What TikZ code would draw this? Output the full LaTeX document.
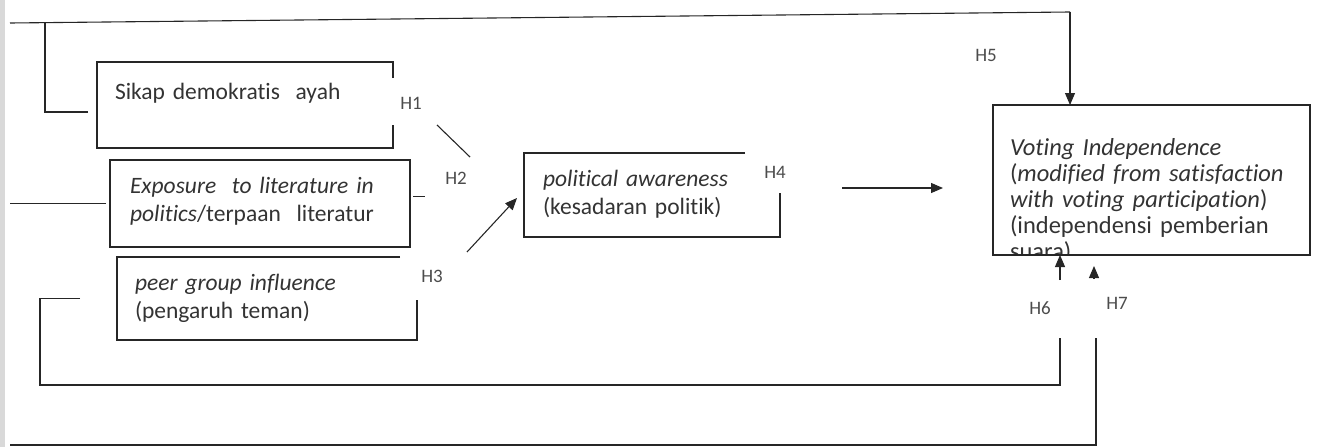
\documentclass[tikz,border=0pt]{standalone}
\usepackage{fontspec}
\setmainfont{Carlito}[Ligatures=NoCommon]
\usetikzlibrary{positioning, arrows.meta, calc}
\hyphenpenalty=10000

\begin{document}
\begin{tikzpicture}[
    x=1pt, y=-1pt,
    >={Triangle[length=12pt, width=10pt]},
    color=black!85,
    line width=1.1pt,
    arrow/.style={
        ->,
        line width=1.1pt
    },
    block/.style={
        rectangle,
        anchor=north west,
        align=left,
        outer sep=0pt,
        inner xsep=18pt,
        inner ysep=0pt,
        text=black!80,
        font=\fontsize{23.5}{28}\selectfont
    },
    hyp/.style={
        inner sep=0pt,
        text=black!70,
        font=\fontsize{19}{21}\selectfont
    }
]

    \useasboundingbox (0,0) rectangle (1317,447);
    \fill[black!15] (0,0) rectangle (5,447);

    % Sikap demokratis ayah
    \node[block, text width=260pt, text height=37pt, text depth=49pt] (sikap) at (97,62) {Sikap demokratis\ \ ayah};
    \draw ([yshift=-16pt]sikap.north east) -- (sikap.north east) -- (sikap.north west)
        -- (sikap.south west) -- (sikap.south east) -- ([yshift=23pt]sikap.south east);

    % Exposure to literature
    \node[block, draw, inner xsep=20pt, text width=260pt, text height=33pt, text depth=54pt] (expo) at (110,160)
        {\textit{Exposure\ \ to literature in}\\\textit{politics}/terpaan\ \ literatur};

    % Peer group
    \node[block, text width=264pt, text height=33pt, text depth=50pt] (peer) at (117,257)
        {\textit{peer group influence}\\(pengaruh teman)};
    \draw ([xshift=-17pt]peer.north east) -- (peer.north west) -- (peer.south west)
        -- (peer.south east) -- ([yshift=40pt]peer.south east);

    % Political awareness
    \node[block, inner xsep=19pt, text width=218pt, text height=33pt, text depth=51pt] (aware) at (524,153)
        {\textit{political awareness}\\(kesadaran politik)};
    \draw ([xshift=-35pt]aware.north east) -- (aware.north west) -- (aware.south west)
        -- (aware.south east) -- ([yshift=44pt]aware.south east);

    % Voting independence (last line cut by the frame)
    \begin{scope}
        \clip (993,105) rectangle (1310,255);
        \node[block, inner xsep=17pt, text width=283pt, text height=50pt, text depth=100pt,
            font=\fontsize{24.5}{26}\selectfont] (vote) at (993,105)
            {\textit{Voting Independence}\\(\textit{modified from satisfaction}\\\textit{with voting participation})\\(independensi pemberian\\suara)};
    \end{scope}
    \draw (vote.north west) rectangle (vote.south east);

    % H1
    \draw ($(sikap.south east)+(44,-23)$) -- ($(aware.north west)+(-54,4)$);
    \node[hyp] (h1) at (411,103) {H1};

    % H2
    \draw ($(expo.east)+(3,-7)$) -- ++(12,0);
    \draw ($(expo.west)+(-4,0)$) -- ++(-96,0);
    \node[hyp] (h2) at (456,178) {H2};

    % H3
    \draw[arrow] ($(peer.north east)+(50,-5)$) -- ($(aware.west)+(-7,3)$);
    \node[hyp] (h3) at (432,276) {H3};

    % H4
    \draw[arrow] ($(aware.east)+(62,-7)$) -- ($(vote.west)+(-50,8)$);
    \node[hyp] (h4) at (775,172) {H4};

    % H5
    \coordinate (top5) at ($(vote.north west)+(77,-93)$);
    \draw ($(sikap.west)+(-9,7)$) -- (45,112) -- (45,22);
    \draw (10,23) -- (top5);
    \draw[arrow] (top5) -- (vote.north -| top5);
    \node[hyp] (h5) at (986,55) {H5};

    % H6
    \draw ($(peer.west)+(-37,0)$) -- ++(-40,0) |- ($(vote.south west)+(67,130)$) -- ++(0,-47);
    \draw[arrow] ($(vote.south west)+(67,25)$) -- (vote.south -| {$(vote.south west)+(67,0)$});
    \node[hyp] (h6) at (1040,308) {H6};

    % H7
    \draw[arrow] ($(vote.south west)+(101,24)$) -- ++(0,-13);
    \draw (10,445) -| ($(vote.south west)+(103,83)$);
    \node[hyp] (h7) at (1117,303) {H7};

\end{tikzpicture}
\end{document}
